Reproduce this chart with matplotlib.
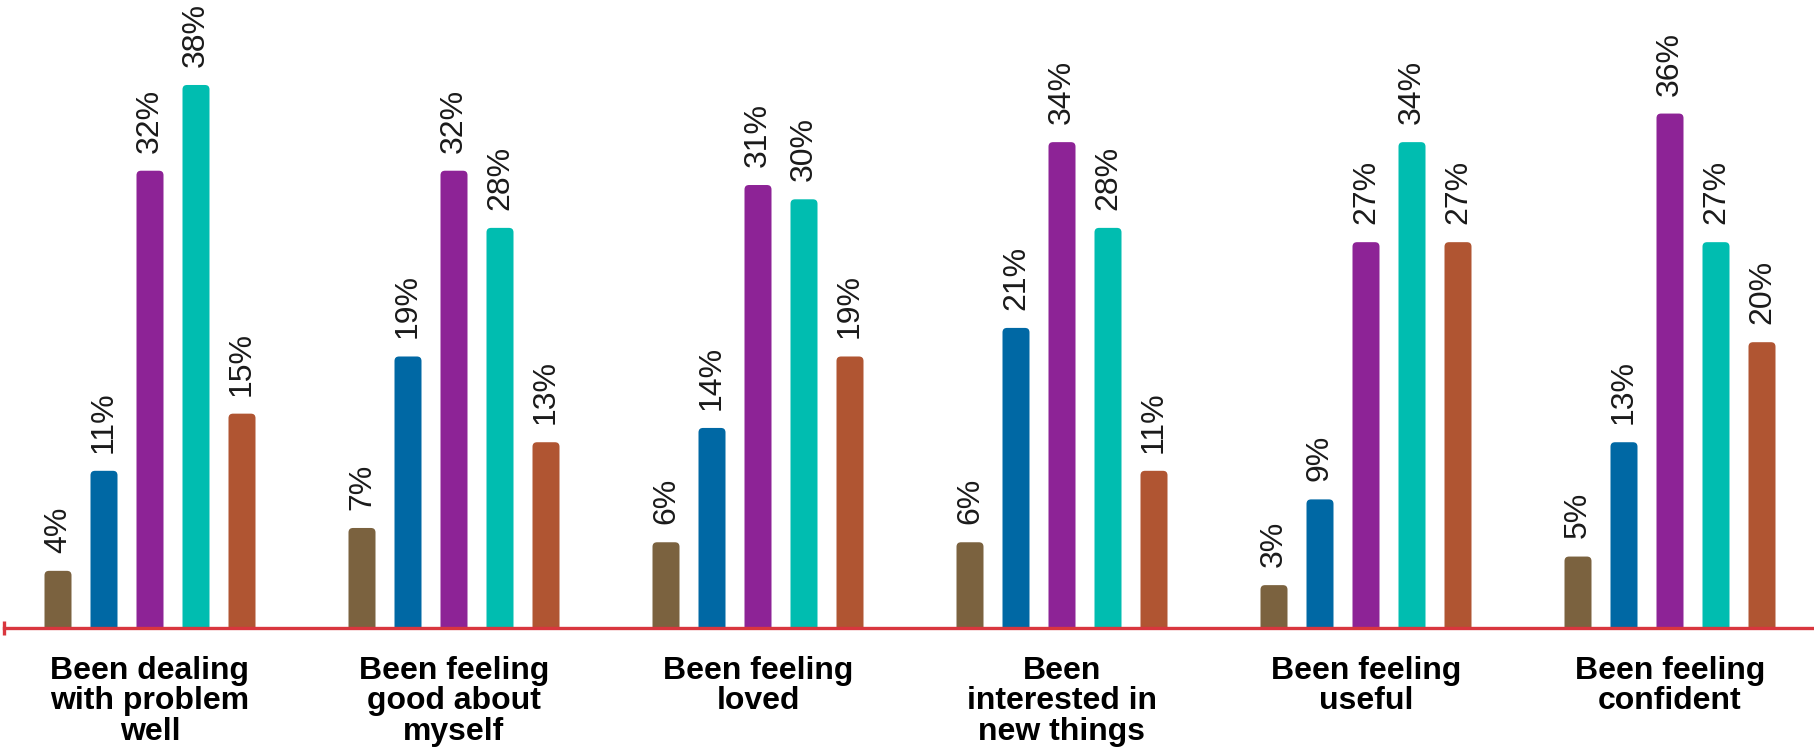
import numpy as np
import matplotlib
matplotlib.use('Agg')
import matplotlib.pyplot as plt
from matplotlib.patches import FancyBboxPatch

categories = ['Been dealing\nwith problem\nwell', 'Been feeling\ngood about\nmyself',
              'Been feeling\nloved', 'Been\ninterested in\nnew things',
              'Been feeling\nuseful', 'Been feeling\nconfident']
s1 = [4, 7, 6, 6, 3, 5]
s2 = [11, 19, 14, 21, 9, 13]
s3 = [32, 32, 31, 34, 27, 36]
s4 = [38, 28, 30, 28, 34, 27]
s5 = [15, 13, 19, 11, 27, 20]
series = [s1, s2, s3, s4, s5]
colors = ['#7b623f', '#0068a4', '#8d2396', '#00bdb0', '#b05532']

plt.rcParams['font.family'] = ['Liberation Sans', 'DejaVu Sans']

fig = plt.figure(figsize=(18.14, 7.49), dpi=100)
ax = fig.add_axes([4 / 1814, 121 / 749, 1 - 4 / 1814, 628 / 749])

# spacing in units of one group
step = 46 / 304
width = 27 / 304
x = np.arange(len(categories))
ymax = 628 / 14.29
r = 4.5 / 304
aspect = (4.5 / 14.29) / r

for j, vals in enumerate(series):
    xs = x + (j - 2) * step
    for xi, v in zip(xs, vals):
        p = FancyBboxPatch((xi - width / 2, -2), width, v + 2,
                           boxstyle='round,pad=0,rounding_size=%f' % r,
                           mutation_aspect=aspect, facecolor=colors[j],
                           edgecolor='none')
        ax.add_patch(p)
        ax.annotate('%d%%' % v, (xi, v), xytext=(0, 13), textcoords='offset points',
                    rotation=90, ha='center', va='bottom', fontsize=23,
                    color='#1a1a1a')

ax.set_xlim(-146 / 304, 1664 / 304)
ax.set_ylim(0, ymax)

for s in ['top', 'right', 'left']:
    ax.spines[s].set_visible(False)
ax.spines['bottom'].set_color('#d9363e')
ax.spines['bottom'].set_linewidth(2.4)
ax.plot([-146 / 304], [0], marker='|', markersize=10, markeredgewidth=2.4,
        color='#d9363e', clip_on=False)
ax.set_yticks([])
ax.set_xticks([])

for xi, cat in zip(x, categories):
    ax.annotate(cat, (xi, 0), xytext=(0, -20), textcoords='offset points',
                ha='center', va='top', fontsize=23, fontweight='bold',
                linespacing=1.03, color='black')

fig.savefig('out.png', dpi=100)
